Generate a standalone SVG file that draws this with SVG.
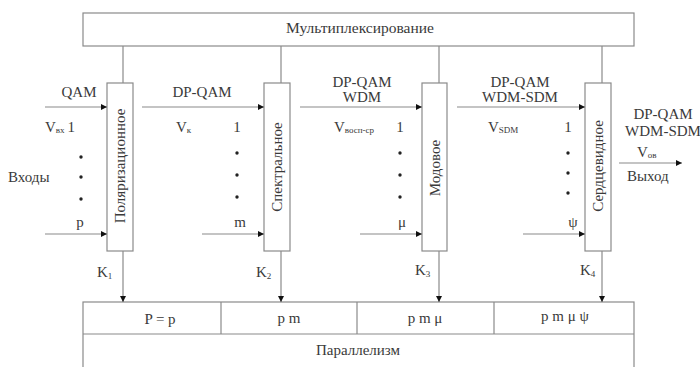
<svg xmlns="http://www.w3.org/2000/svg" width="700" height="367" viewBox="0 0 700 367" font-family="'Liberation Serif', 'DejaVu Serif', serif">
<defs>
<marker id="ah" markerWidth="6" markerHeight="6" refX="6" refY="3" orient="auto" markerUnits="userSpaceOnUse">
<path d="M0,0 L6,3 L0,6 Z" fill="#111"/>
</marker>
<style>
rect{fill:#fff;stroke:#8a8a8a;stroke-width:1.2}
line{stroke:#8a8a8a;stroke-width:1.2}
.a{marker-end:url(#ah)}
text{font-family:"Liberation Serif","DejaVu Serif",serif;font-size:15px;fill:#3a3a3a}
.c{text-anchor:middle}
.s{font-size:9px}
</style>
</defs>
<rect width="700" height="367" style="fill:#fff;stroke:none"/>
<g id="mux"><rect x="83" y="13" width="551" height="33"/><text class="c" x="360" y="33" style="font-size:15.5px">Мультиплексирование</text></g>
<g id="par">
<rect x="83" y="302" width="551" height="70"/>
<line x1="83" y1="334" x2="634" y2="334"/>
<line x1="221" y1="302" x2="221" y2="334"/>
<line x1="357" y1="302" x2="357" y2="334"/>
<line x1="494" y1="302" x2="494" y2="334"/>
<text class="c" x="160" y="324">P = p</text>
<text class="c" x="289" y="323">p m</text>
<text class="c" x="425" y="323">p m μ</text>
<text class="c" x="565" y="321">p m μ ψ</text>
<text class="c" x="358" y="355">Параллелизм</text>
</g>
<g id="b1"><rect x="107" y="83" width="26" height="168"/><text class="c" transform="translate(125,166) rotate(-90)">Поляризационное</text></g>
<g id="b2"><rect x="264" y="83" width="26" height="168"/><text class="c" transform="translate(282,167) rotate(-90)">Спектральное</text></g>
<g id="b3"><rect x="422" y="83" width="25" height="168"/><text class="c" transform="translate(440,168) rotate(-90)">Модовое</text></g>
<g id="b4"><rect x="585" y="83" width="26" height="168"/><text class="c" transform="translate(603,166) rotate(-90)">Сердцевидное</text></g>
<g id="connectors">
<line x1="123" y1="46" x2="123" y2="83"/>
<line x1="281" y1="46" x2="281" y2="83"/>
<line x1="439" y1="46" x2="439" y2="83"/>
<line x1="602" y1="46" x2="602" y2="83"/>
<line class="a" x1="123" y1="251" x2="123" y2="302"/>
<line class="a" x1="281" y1="251" x2="281" y2="302"/>
<line class="a" x1="439" y1="251" x2="439" y2="302"/>
<line class="a" x1="602" y1="251" x2="602" y2="302"/>
<line class="a" x1="45" y1="107" x2="107" y2="107"/>
<line class="a" x1="142" y1="107" x2="264" y2="107"/>
<line class="a" x1="300" y1="107" x2="422" y2="107"/>
<line class="a" x1="457" y1="107" x2="585" y2="107"/>
<line class="a" x1="45" y1="234" x2="107" y2="234"/>
<line class="a" x1="202" y1="234" x2="264" y2="234"/>
<line class="a" x1="360" y1="234" x2="422" y2="234"/>
<line class="a" x1="523" y1="234" x2="585" y2="234"/>
<line class="a" x1="619" y1="163" x2="682" y2="163"/>
</g>
<g id="labels">
<text class="c" x="79" y="97">QAM</text>
<text class="c" x="202" y="97">DP-QAM</text>
<text class="c" x="362" y="87">DP-QAM</text>
<text class="c" x="362" y="102">WDM</text>
<text class="c" x="520" y="87">DP-QAM</text>
<text class="c" x="520" y="102">WDM-SDM</text>
<text class="c" x="663" y="119">DP-QAM</text>
<text class="c" x="663" y="136">WDM-SDM</text>
<text x="637" y="157">V<tspan class="s" dy="1">ов</tspan></text>
<text x="627" y="181">Выход</text>
<text x="8" y="182">Входы</text>
<text x="45" y="132">V<tspan class="s" dy="1">вх</tspan><tspan dx="3" dy="-1">1</tspan></text>
<text x="176" y="132">V<tspan class="s" dy="1">к</tspan></text>
<text x="334" y="132">V<tspan class="s" dy="1">восп-ср</tspan></text>
<text x="488" y="132">V<tspan class="s" dy="1">SDM</tspan></text>
<text class="c" x="237" y="132">1</text>
<text class="c" x="400" y="132">1</text>
<text class="c" x="568" y="132">1</text>
<text class="c" x="80" y="227">p</text>
<text class="c" x="240" y="227">m</text>
<text class="c" x="402" y="227">μ</text>
<text class="c" x="573" y="227">ψ</text>
<text x="97" y="277">K<tspan class="s" dy="2">1</tspan></text>
<text x="256" y="277">K<tspan class="s" dy="2">2</tspan></text>
<text x="415" y="275">K<tspan class="s" dy="2">3</tspan></text>
<text x="580" y="275">K<tspan class="s" dy="2">4</tspan></text>
</g>
<g id="dots" fill="#222">
<circle cx="81" cy="157" r="1.7"/><circle cx="81" cy="177" r="1.7"/><circle cx="81" cy="199" r="1.7"/>
<circle cx="237" cy="153" r="1.7"/><circle cx="237" cy="175" r="1.7"/><circle cx="237" cy="197" r="1.7"/>
<circle cx="400" cy="153" r="1.7"/><circle cx="400" cy="175" r="1.7"/><circle cx="400" cy="197" r="1.7"/>
<circle cx="568" cy="153" r="1.7"/><circle cx="568" cy="173" r="1.7"/><circle cx="568" cy="193" r="1.7"/>
</g>
</svg>
